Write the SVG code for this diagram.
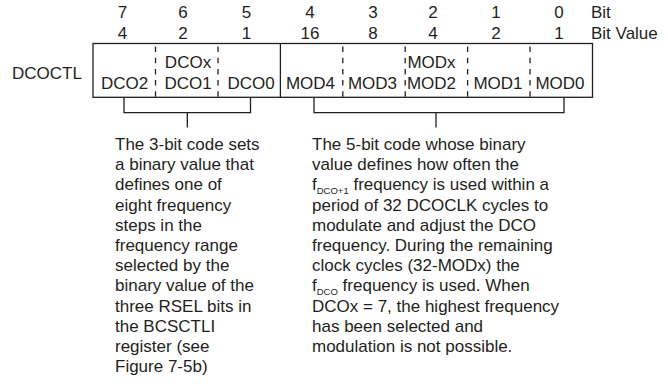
<svg xmlns="http://www.w3.org/2000/svg" width="668" height="391" viewBox="0 0 668 391">
<style>
text{font-family:"Liberation Sans",Arial,Helvetica,sans-serif;font-size:17px;fill:#231f20}
.c{text-anchor:middle}
.sub{font-size:9.5px}
.ln{fill:none;stroke:#231f20;stroke-width:1.3}
.ds{fill:none;stroke:#231f20;stroke-width:1.3;stroke-dasharray:5.5 5.7}
</style>
<rect width="668" height="391" fill="#fff"/>
<g id="bit-numbers">
<text class="c" x="122.5" y="18">7</text>
<text class="c" x="183" y="18">6</text>
<text class="c" x="246.5" y="18">5</text>
<text class="c" x="310" y="18">4</text>
<text class="c" x="373" y="18">3</text>
<text class="c" x="433" y="18">2</text>
<text class="c" x="496" y="18">1</text>
<text class="c" x="559" y="18">0</text>
<text x="591" y="18">Bit</text>
</g>
<g id="bit-values">
<text class="c" x="122.5" y="38.5">4</text>
<text class="c" x="183" y="38.5">2</text>
<text class="c" x="246.5" y="38.5">1</text>
<text class="c" x="310" y="38.5">16</text>
<text class="c" x="373" y="38.5">8</text>
<text class="c" x="433" y="38.5">4</text>
<text class="c" x="496" y="38.5">2</text>
<text class="c" x="559" y="38.5">1</text>
<text x="591" y="38.5">Bit Value</text>
</g>
<g id="register-label">
<text x="12" y="79">DCOCTL</text>
</g>
<g id="register">
<rect class="ln" x="93" y="43.5" width="499.5" height="53.8"/>
<line class="ln" x1="280.4" y1="43.5" x2="280.4" y2="97.3"/>
<line class="ds" x1="155.5" y1="46.5" x2="155.5" y2="97.3"/>
<line class="ds" x1="218" y1="46.5" x2="218" y2="97.3"/>
<line class="ds" x1="342.8" y1="46.5" x2="342.8" y2="97.3"/>
<line class="ds" x1="405.2" y1="46.5" x2="405.2" y2="97.3"/>
<line class="ds" x1="467.6" y1="46.5" x2="467.6" y2="97.3"/>
<line class="ds" x1="530" y1="46.5" x2="530" y2="97.3"/>
</g>
<g id="dco-field">
<text class="c" x="124.5" y="89">DCO2</text>
<text class="c" x="188" y="68">DCOx</text>
<text class="c" x="188" y="89">DCO1</text>
<text class="c" x="251" y="89">DCO0</text>
</g>
<g id="mod-field">
<text class="c" x="310.5" y="89">MOD4</text>
<text class="c" x="372.5" y="89">MOD3</text>
<text class="c" x="431.5" y="68">MODx</text>
<text class="c" x="431.5" y="89">MOD2</text>
<text class="c" x="498" y="89">MOD1</text>
<text class="c" x="560" y="89">MOD0</text>
</g>
<g id="connectors">
<path class="ln" d="M124 97.3V112.7H250.5V97.3M187.3 112.7V127.5"/>
<path class="ln" d="M314 97.3V112.7H564V97.3M436 112.7V127.5"/>
</g>
<g id="dco-note">
<text x="115" y="150">The 3-bit code sets</text>
<text x="115" y="170.2">a binary value that</text>
<text x="115" y="190.4">defines one of</text>
<text x="115" y="210.6">eight frequency</text>
<text x="115" y="230.8">steps in the</text>
<text x="115" y="251">frequency range</text>
<text x="115" y="271.2">selected by the</text>
<text x="115" y="291.4">binary value of the</text>
<text x="115" y="311.6">three RSEL bits in</text>
<text x="115" y="331.8">the BCSCTLI</text>
<text x="115" y="352">register (see</text>
<text x="115" y="372.2">Figure 7-5b)</text>
</g>
<g id="mod-note">
<text x="312" y="150">The 5-bit code whose binary</text>
<text x="312" y="170.2">value defines how often the</text>
<text x="312" y="190.4">f<tspan class="sub" dy="4">DCO+1</tspan><tspan dy="-4"> frequency is used within a</tspan></text>
<text x="312" y="210.6">period of 32 DCOCLK cycles to</text>
<text x="312" y="230.8">modulate and adjust the DCO</text>
<text x="312" y="251">frequency. During the remaining</text>
<text x="312" y="271.2">clock cycles (32-MODx) the</text>
<text x="312" y="291.4">f<tspan class="sub" dy="4">DCO</tspan><tspan dy="-4"> frequency is used. When</tspan></text>
<text x="312" y="311.6">DCOx = 7, the highest frequency</text>
<text x="312" y="331.8">has been selected and</text>
<text x="312" y="352">modulation is not possible.</text>
</g>
</svg>
